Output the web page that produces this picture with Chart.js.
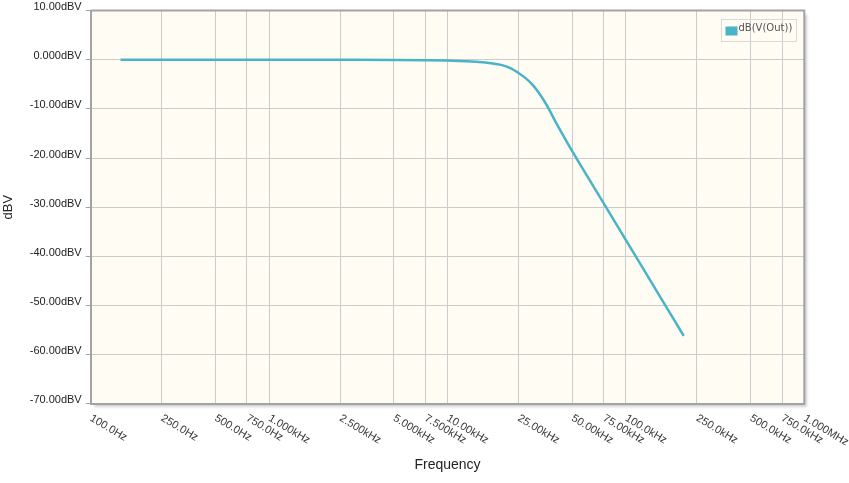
<!DOCTYPE html>
<html><head><meta charset="utf-8">
<script src="https://cdn.jsdelivr.net/npm/chart.js@4.4.1/dist/chart.umd.min.js"></script>
<style>html,body{margin:0;padding:0;background:#fff;}#wrap{width:849px;height:483px;position:relative;}</style>
</head><body><div id="wrap"><canvas id="c"></canvas></div>
<script>
// Data
const frequencies = [147, 250, 500, 1000, 2500, 5000, 7500, 10000, 12500, 15000, 17500, 20000, 22500, 25000, 27500, 30000, 32500, 35000, 37500, 40000, 45000, 50000, 60000, 75000, 100000, 125000, 150000, 175000, 200000, 211000];
const magnitudeDb = [0, 0, 0, 0, -0.01, -0.03, -0.08, -0.17, -0.3, -0.45, -0.7, -1.05, -1.7, -2.7, -3.8, -5.1, -6.7, -8.5, -10.4, -12.4, -15.7, -18.6, -23.4, -29.2, -36.7, -42.5, -47.3, -51.3, -54.8, -56.2];
const seriesLabel = 'dB(V(Out))';

const xTickValues = [100, 250, 500, 750, 1000, 2500, 5000, 7500, 10000, 25000, 50000, 75000, 100000, 250000, 500000, 750000, 1000000];
const xTickLabels = ['100.0Hz', '250.0Hz', '500.0Hz', '750.0Hz', '1.000kHz', '2.500kHz', '5.000kHz', '7.500kHz', '10.00kHz', '25.00kHz', '50.00kHz', '75.00kHz', '100.0kHz', '250.0kHz', '500.0kHz', '750.0kHz', '1.000MHz'];
const yTickValues = [10, 0, -10, -20, -30, -40, -50, -60, -70];
const yTickLabels = ['10.00dBV', '0.000dBV', '-10.00dBV', '-20.00dBV', '-30.00dBV', '-40.00dBV', '-50.00dBV', '-60.00dBV', '-70.00dBV'];

const FONT = "'Liberation Sans', Arial, sans-serif";
const LINE_COLOR = '#49B3C8';
const BORDER = '#a3a3a3';
const PLOT_BG = '#FFFCF3';

const framePlugin = {
  id: 'frame',
  beforeDraw(chart) {
    const {ctx, chartArea: a} = chart;
    ctx.save();
    ctx.shadowColor = 'rgba(0,0,0,0.25)';
    ctx.shadowBlur = 3;
    ctx.shadowOffsetX = 3;
    ctx.shadowOffsetY = 3;
    ctx.fillStyle = PLOT_BG;
    ctx.fillRect(a.left, a.top, a.right - a.left, a.bottom - a.top);
    ctx.restore();
  },
  afterDraw(chart) {
    const {ctx, chartArea: a} = chart;
    ctx.save();
    ctx.strokeStyle = BORDER;
    ctx.lineWidth = 2;
    ctx.beginPath();
    ctx.moveTo(a.left, a.top);
    ctx.lineTo(a.right, a.top);
    ctx.lineTo(a.right, a.bottom);
    ctx.stroke();
    // rotated x tick labels
    const xs = chart.scales.x;
    ctx.fillStyle = '#3a3a3a';
    ctx.font = '11px ' + FONT;
    ctx.textAlign = 'left';
    ctx.textBaseline = 'top';
    xTickValues.forEach((v, i) => {
      const px = xs.getPixelForValue(v);
      ctx.save();
      ctx.translate(px + 3, a.bottom + 9);
      ctx.rotate(31 * Math.PI / 180);
      ctx.fillText(xTickLabels[i], 0, 0);
      ctx.restore();
    });
    // legend
    const bx = 721.5, by = 19.5, bw = 75, bh = 22;
    ctx.strokeStyle = '#d9d9d9';
    ctx.lineWidth = 1;
    ctx.strokeRect(bx, by, bw, bh);
    ctx.fillStyle = chart.data.datasets[0].borderColor;
    ctx.fillRect(bx + 4, by + 7, 12, 9);
    ctx.fillStyle = '#555';
    ctx.font = "10px 'DejaVu Sans', sans-serif";
    ctx.textBaseline = 'middle';
    ctx.fillText(chart.data.datasets[0].label, bx + 17, by + 9);
    ctx.restore();
  }
};

new Chart(document.getElementById('c'), {
  type: 'line',
  data: {
    datasets: [{
      label: seriesLabel,
      data: frequencies.map((f, i) => ({x: f, y: magnitudeDb[i]})),
      borderColor: LINE_COLOR,
      borderWidth: 2.5,
      pointRadius: 0,
      fill: false,
      cubicInterpolationMode: 'monotone'
    }]
  },
  options: {
    responsive: true,
    maintainAspectRatio: false,
    animation: false,
    layout: {padding: {top: 10.1, right: 44.7, bottom: 9.3, left: 0}},
    plugins: {legend: {display: false}, tooltip: {enabled: false}},
    scales: {
      x: {
        type: 'logarithmic',
        min: 100,
        max: 1000000,
        afterBuildTicks: (s) => { s.ticks = xTickValues.map(v => ({value: v})); },
        afterFit: (s) => { s.height = 70; },
        ticks: {display: false},
        grid: {color: '#cbcbcb', lineWidth: 1, drawTicks: false},
        border: {display: true, color: BORDER, width: 2},
        title: {display: true, text: 'Frequency', color: '#222', font: {family: FONT, size: 14}, padding: 0}
      },
      y: {
        min: -70,
        max: 10,
        afterBuildTicks: (s) => { s.ticks = yTickValues.map(v => ({value: v})); },
        afterFit: (s) => { s.width = 90.7; },
        ticks: {
          color: '#222',
          font: {family: FONT, size: 11},
          padding: 4,
          labelOffset: -3.5,
          callback: (v) => yTickLabels[yTickValues.indexOf(v)]
        },
        grid: {color: '#cbcbcb', lineWidth: 1, tickLength: 5, tickColor: BORDER},
        border: {display: true, color: BORDER, width: 2},
        title: {display: true, text: 'dBV', color: '#222', font: {family: FONT, size: 13}, padding: 1}
      }
    }
  },
  plugins: [framePlugin]
});
</script></body></html>
